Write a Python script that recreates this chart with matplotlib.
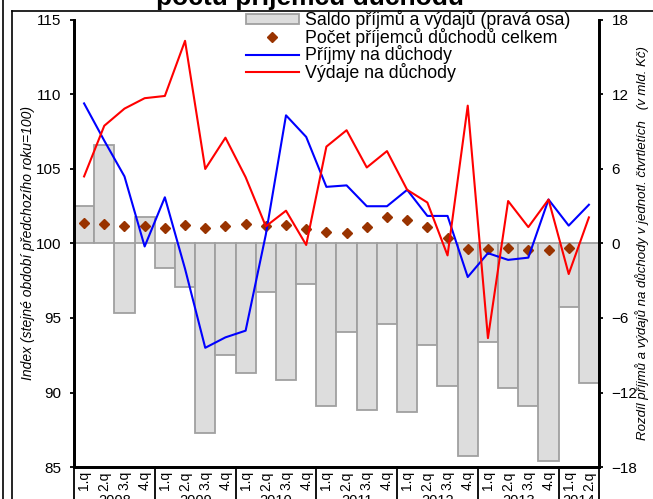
import numpy as np
import matplotlib
matplotlib.use("Agg")
import matplotlib.pyplot as plt
from matplotlib.lines import Line2D
from matplotlib.patches import Patch

plt.rcParams['font.family'] = ['Liberation Sans', 'DejaVu Sans']

years = ["2008", "2009", "2010", "2011", "2012", "2013", "2014"]
q_per_year = [4, 4, 4, 4, 4, 4, 2]
quarters = [f"{q}.q" for n in q_per_year for q in range(1, n + 1)]

# saldo (right axis, bn CZK)
saldo = [3.0, 7.9, -5.6, 2.1, -2.0, -3.5, -15.3, -9.0, -10.4, -3.9, -11.0, -3.3, -13.1,
         -7.1, -13.4, -6.5, -13.6, -8.2, -11.5, -17.1, -7.9, -11.6, -13.1, -17.5, -5.1, -11.2]
# indexes (left axis)
pocet = [101.4, 101.3, 101.15, 101.15, 101.05, 101.25, 101.05, 101.2, 101.3, 101.15, 101.25,
         100.95, 100.8, 100.7, 101.1, 101.8, 101.6, 101.1, 100.35, 99.65, 99.6, 99.7, 99.55,
         99.55, 99.7, np.nan]
prijmy = [109.4, 106.9, 104.5, 99.8, 103.1, 98.3, 93.0, 93.7, 94.15, 100.6, 108.6, 107.15,
          103.8, 103.9, 102.5, 102.5, 103.6, 101.85, 101.85, 97.75, 99.35, 98.9, 99.05,
          102.95, 101.2, 102.6]
vydaje = [104.5, 107.9, 109.05, 109.75, 109.9, 113.6, 105.0, 107.1, 104.45, 101.15, 102.2,
          99.9, 106.5, 107.6, 105.1, 106.2, 103.6, 102.75, 99.2, 109.25, 93.65, 102.85, 101.1,
          102.95, 97.95, 101.75]

x = np.arange(len(quarters))

fig = plt.figure(figsize=(6.53, 4.99), dpi=100)
ax = fig.add_axes([0.1133, 0.0641, 0.804, 0.8959])
ax2 = ax.twinx()
ax.set_zorder(ax2.get_zorder() + 1)
ax.patch.set_visible(False)

bar_face = "#dddddd"
bar_edge = "#a0a0a0"
ax2.bar(x, saldo, width=1.0, color=bar_face, edgecolor=bar_edge, linewidth=1.3)
ax2.set_ylim(-18, 18)
ax2.set_yticks(range(-18, 19, 6))

ax.plot(x, pocet, linestyle="none", marker="D", markersize=5.5, color="#993300")
ax.plot(x, prijmy, color="#0000ff", linewidth=1.5)
ax.plot(x, vydaje, color="#ff0000", linewidth=1.5)
ax.set_ylim(85, 115)
ax.set_yticks(range(85, 116, 5))
ax.set_xlim(-0.5, len(quarters) - 0.5)

ax.set_xticks(x)
ax.set_xticklabels(quarters, rotation=90, fontsize=10)
ax.tick_params(axis="x", length=0, pad=3)
ax.tick_params(axis="y", length=3, width=1.3, pad=6, labelsize=11)
ax2.tick_params(axis="y", length=3, width=1.3, pad=6, labelsize=11)

for a in (ax, ax2):
    a.spines["top"].set_visible(False)
    for s in ("left", "right", "bottom"):
        a.spines[s].set_linewidth(2)

# year separators and labels
trans = ax.get_xaxis_transform()
pos = -0.5
for yr, n in zip(years, q_per_year):
    ax.plot([pos, pos], [0, -0.12], color="black", linewidth=1.3, transform=trans, clip_on=False)
    ax.text(pos + n / 2, -0.061, yr, transform=trans, ha="center", va="top", fontsize=10.5)
    pos += n
ax.plot([pos, pos], [0, -0.12], color="black", linewidth=1.3, transform=trans, clip_on=False)

ax.set_ylabel("Index (stejné období předchozího roku=100)", fontsize=10, style="italic", labelpad=1)
ax2.set_ylabel("Rozdíl příjmů a výdajů na důchody v jednotl. čtvrtletích   (v mld. Kč)",
               fontsize=9.5, style="italic", labelpad=-2)

handles = [Patch(facecolor=bar_face, edgecolor=bar_edge, linewidth=1.3),
           Line2D([], [], linestyle="none", marker="D", markersize=5.5, color="#993300"),
           Line2D([], [], color="#0000ff", linewidth=1.5),
           Line2D([], [], color="#ff0000", linewidth=1.5)]
labels = ["Saldo příjmů a výdajů (pravá osa)", "Počet příjemců důchodů celkem",
          "Příjmy na důchody", "Výdaje na důchody"]
ax.legend(handles, labels, loc="upper left", bbox_to_anchor=(0.31, 1.042), frameon=False,
          fontsize=12.8, handlelength=3.0, handleheight=0.45, handletextpad=0.35,
          labelspacing=-0.08, borderpad=0)

# page frame and cut title
fig.add_artist(Line2D([3 / 653, 3 / 653], [0, 1], color="black", linewidth=1.2))
fig.add_artist(Line2D([12 / 653, 12 / 653], [0, 1 - 11 / 499], color="black", linewidth=1.2))
fig.add_artist(Line2D([12 / 653, 1], [1 - 11 / 499, 1 - 11 / 499], color="black", linewidth=1.2))
fig.text(310 / 653, 1 - 5 / 499, "počtu příjemců důchodů", ha="center", va="baseline",
         fontsize=19, fontweight="bold")

fig.savefig("out.png", dpi=100)
